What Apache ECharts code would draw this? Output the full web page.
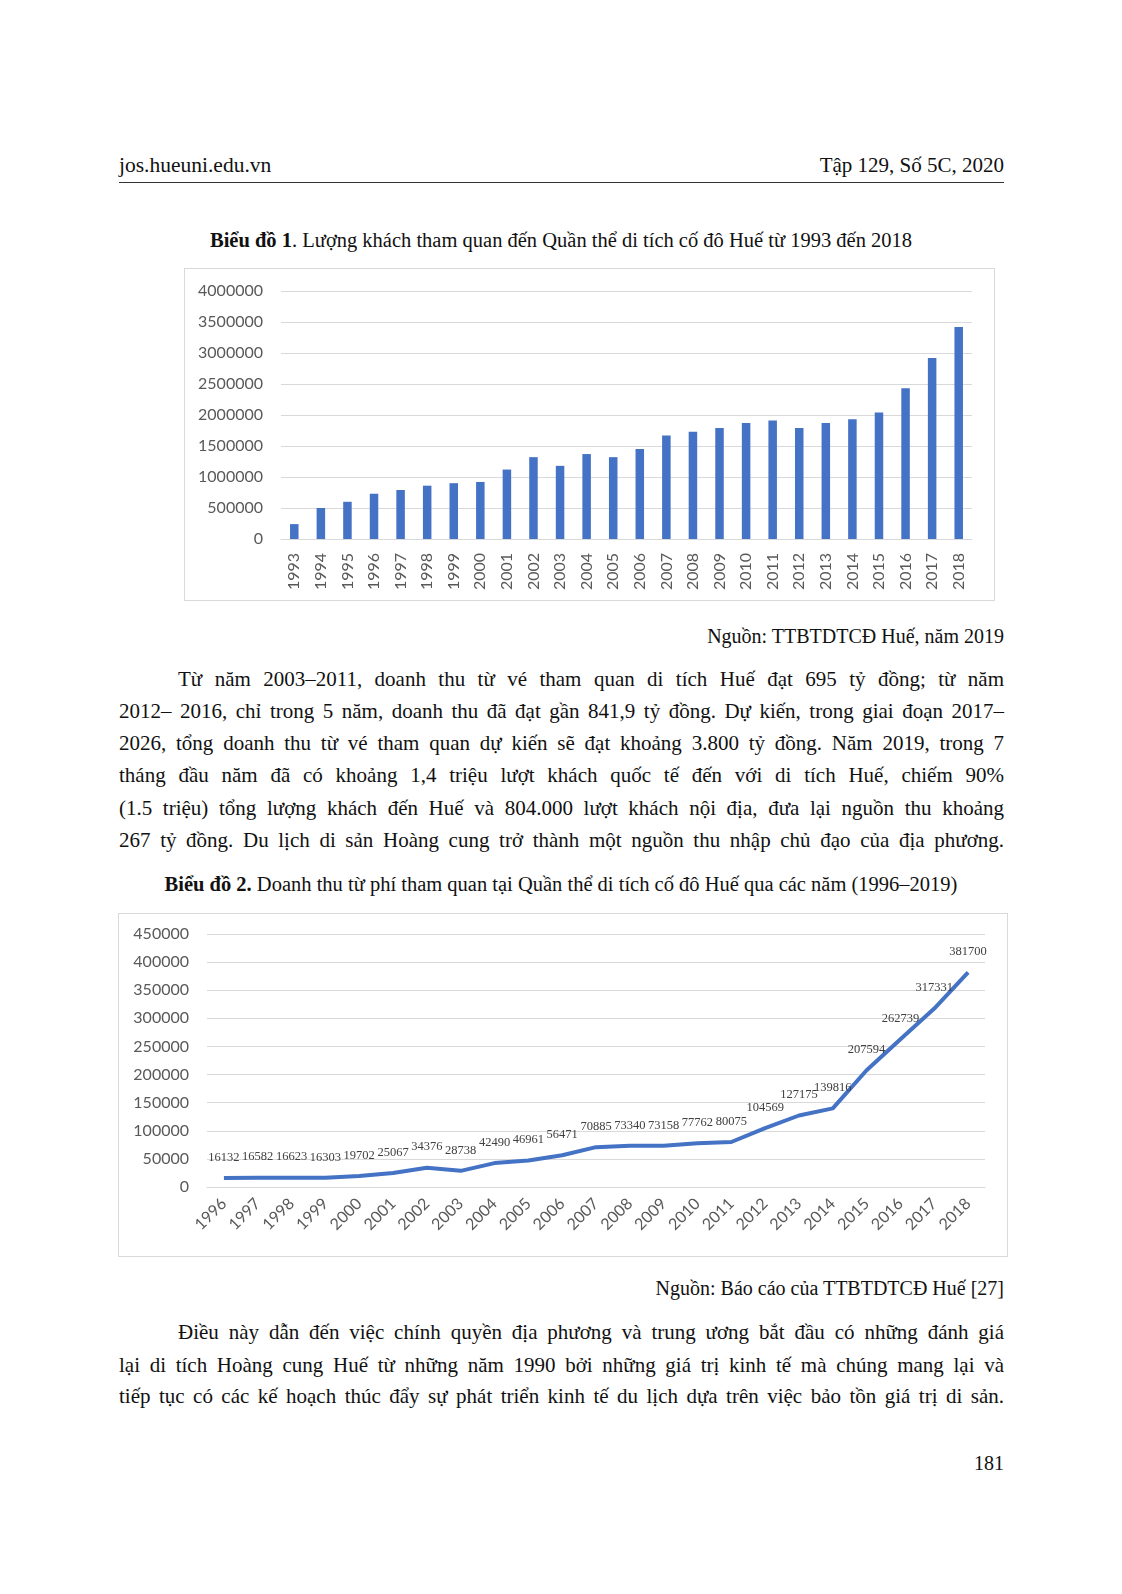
<!DOCTYPE html>
<html><head><meta charset="utf-8">
<script src="https://cdn.jsdelivr.net/npm/echarts@6/dist/echarts.min.js"></script>
<style>
html,body{margin:0;padding:0;background:#fff;}
body{width:1122px;height:1594px;position:relative;overflow:hidden;font-family:"Liberation Serif","DejaVu Serif",serif;color:#111;}
.t{position:absolute;white-space:nowrap;line-height:24px;}
.ln{position:absolute;left:119px;width:885px;line-height:24px;font-size:21px;text-align:justify;text-align-last:justify;white-space:nowrap;}
.ind{left:178px;width:826px;}
.box{position:absolute;border:1px solid #d9d9d9;box-sizing:border-box;}
</style></head>
<body>
<div class="t" style="left:119px;top:153px;font-size:21.5px;">jos.hueuni.edu.vn</div>
<div class="t" style="right:118px;top:153px;font-size:21px;">Tập 129, Số 5C, 2020</div>
<div style="position:absolute;left:119px;top:182px;width:885px;height:1px;background:#333;"></div>

<div class="t" style="left:0;width:1122px;text-align:center;top:228px;font-size:20.5px;"><b>Biểu đồ 1</b>. Lượng khách tham quan đến Quần thể di tích cố đô Huế từ 1993 đến 2018</div>
<div id="c1" class="box" style="left:184px;top:268px;width:811px;height:333px;"></div>
<div class="t" style="right:118px;top:624px;font-size:20px;">Nguồn: TTBTDTCĐ Huế, năm 2019</div>

<div class="ln ind" style="top:667px;">Từ năm 2003–2011, doanh thu từ vé tham quan di tích Huế đạt 695 tỷ đồng; từ năm</div>
<div class="ln" style="top:699px;">2012– 2016, chỉ trong 5 năm, doanh thu đã đạt gần 841,9 tỷ đồng. Dự kiến, trong giai đoạn 2017–</div>
<div class="ln" style="top:731px;">2026, tổng doanh thu từ vé tham quan dự kiến sẽ đạt khoảng 3.800 tỷ đồng. Năm 2019, trong 7</div>
<div class="ln" style="top:763px;">tháng đầu năm đã có khoảng 1,4 triệu lượt khách quốc tế đến với di tích Huế, chiếm 90%</div>
<div class="ln" style="top:796px;">(1.5 triệu) tổng lượng khách đến Huế và 804.000 lượt khách nội địa, đưa lại nguồn thu khoảng</div>
<div class="ln" style="top:828px;">267 tỷ đồng. Du lịch di sản Hoàng cung trở thành một nguồn thu nhập chủ đạo của địa phương.</div>

<div class="t" style="left:0;width:1122px;text-align:center;top:872px;font-size:20.5px;"><b>Biểu đồ 2.</b> Doanh thu từ phí tham quan tại Quần thể di tích cố đô Huế qua các năm (1996–2019)</div>
<div id="c2" class="box" style="left:118px;top:913px;width:890px;height:344px;"></div>
<div class="t" style="right:118px;top:1276px;font-size:20px;">Nguồn: Báo cáo của TTBTDTCĐ Huế [27]</div>

<div class="ln ind" style="top:1320px;">Điều này dẫn đến việc chính quyền địa phương và trung ương bắt đầu có những đánh giá</div>
<div class="ln" style="top:1353px;">lại di tích Hoàng cung Huế từ những năm 1990 bởi những giá trị kinh tế mà chúng mang lại và</div>
<div class="ln" style="top:1384px;">tiếp tục có các kế hoạch thúc đẩy sự phát triển kinh tế du lịch dựa trên việc bảo tồn giá trị di sản.</div>

<div class="t" style="right:118px;top:1451px;font-size:20px;">181</div>

<script>
var years1 = ['1993','1994','1995','1996','1997','1998','1999','2000','2001','2002','2003','2004','2005','2006','2007','2008','2009','2010','2011','2012','2013','2014','2015','2016','2017','2018'];
var visitors = [240000,500000,600000,730000,790000,860000,900000,920000,1120000,1320000,1180000,1370000,1320000,1450000,1670000,1730000,1790000,1870000,1910000,1790000,1870000,1930000,2040000,2430000,2920000,3420000];

var years2 = ['1996','1997','1998','1999','2000','2001','2002','2003','2004','2005','2006','2007','2008','2009','2010','2011','2012','2013','2014','2015','2016','2017','2018'];
var revenue = [16132,16582,16623,16303,19702,25067,34376,28738,42490,46961,56471,70885,73340,73158,77762,80075,104569,127175,139816,207594,262739,317331,381700];

var blue = '#4472C4';
var axisFont = {fontFamily:'Lato, "Open Sans", sans-serif', fontSize:16, color:'#595959'};
var plain = function(v){ return String(v); };

var c1 = echarts.init(document.getElementById('c1'), null, {renderer:'canvas'});
c1.setOption({
  animation:false,
  grid:{left:96, right:22, top:22, bottom:61},
  xAxis:{type:'category', data:years1, boundaryGap:true,
    axisLine:{lineStyle:{color:'#d9d9d9'}}, axisTick:{show:false},
    axisLabel:Object.assign({rotate:90, margin:14, interval:0}, axisFont)},
  yAxis:{type:'value', min:0, max:4000000, interval:500000,
    axisLine:{show:false}, axisTick:{show:false},
    splitLine:{lineStyle:{color:'#d9d9d9', width:1}},
    axisLabel:Object.assign({margin:18, formatter:plain}, axisFont)},
  series:[{type:'bar', data:visitors, barWidth:'32%', itemStyle:{color:blue}}]
});

var c2 = echarts.init(document.getElementById('c2'), null, {renderer:'canvas'});
c2.setOption({
  animation:false,
  grid:{left:88, right:22, top:20, bottom:69},
  xAxis:{type:'category', data:years2, boundaryGap:true,
    axisLine:{lineStyle:{color:'#d9d9d9'}}, axisTick:{show:false},
    axisLabel:Object.assign({rotate:45, margin:14, interval:0}, axisFont)},
  yAxis:{type:'value', min:0, max:450000, interval:50000,
    axisLine:{show:false}, axisTick:{show:false},
    splitLine:{lineStyle:{color:'#d9d9d9', width:1}},
    axisLabel:Object.assign({margin:18, formatter:plain}, axisFont)},
  series:[{type:'line', data:revenue, symbol:'circle', symbolSize:0, showSymbol:true,
    lineStyle:{color:blue, width:4}, itemStyle:{color:blue},
    label:{show:true, position:'top', distance:14, fontFamily:'"Liberation Serif", serif', fontSize:12.5, color:'#404040'}}]
});
</script>
</body></html>
